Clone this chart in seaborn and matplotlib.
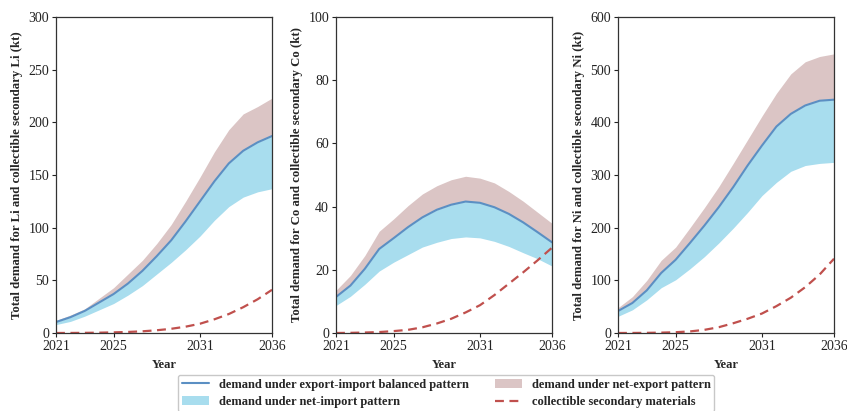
import matplotlib
matplotlib.use("Agg")
import matplotlib.pyplot as plt
import seaborn as sns
import pandas as pd
from matplotlib.patches import Patch
from matplotlib.lines import Line2D

years = list(range(2021, 2037))

# Li (kt)
li_balanced = [10.4, 15, 21, 29, 37, 47, 59, 73, 88, 106, 125, 144, 161, 173, 181, 187]
li_export = [12, 17, 23, 33, 43, 56, 69, 85, 103, 125, 148, 172, 193, 208, 215, 223]
li_import = [8, 11, 16, 22, 28, 36, 45, 56, 67, 79, 92, 107, 120, 129, 134, 137]
li_secondary = [0, 0.05, 0.15, 0.3, 0.6, 1.0, 1.6, 2.6, 4, 6, 8.8, 13, 18, 24.5, 32, 41]

# Co (kt)
co_balanced = [11.4, 15, 20.3, 26.6, 30, 33.5, 36.6, 39, 40.6, 41.6, 41.2, 39.8, 37.7, 35, 31.9, 28.7]
co_export = [13.5, 18.2, 24.5, 32.2, 36.1, 40.3, 44, 46.6, 48.5, 49.6, 49, 47.5, 44.8, 41.7, 38.2, 34.7]
co_import = [8.7, 11.6, 15.4, 19.6, 22.4, 24.8, 27.2, 28.7, 29.9, 30.4, 30.1, 29, 27.4, 25.4, 23.5, 21.2]
co_secondary = [0, 0.05, 0.15, 0.3, 0.6, 1.0, 1.8, 3, 4.5, 6.5, 8.8, 12, 15.6, 19.2, 23, 27]

# Ni (kt)
ni_balanced = [41.7, 57, 81, 114, 139, 171, 204, 239, 277, 318, 356, 392, 416, 432, 441, 443]
ni_export = [48, 69, 100, 138, 163, 200, 238, 278, 322, 367, 412, 455, 492, 515, 525, 530]
ni_import = [31.6, 44, 63, 86, 101, 122, 145, 171, 199, 229, 261, 286, 307, 318, 322, 324]
ni_secondary = [0, 0.1, 0.3, 0.7, 1.5, 3, 6, 11, 18.5, 27, 37, 51, 67, 87, 111, 141]

elements = ["Li", "Co", "Ni"]
y_limits = [300, 100, 600]
y_ticks = [[0, 50, 100, 150, 200, 250, 300],
           [0, 20, 40, 60, 80, 100],
           [0, 100, 200, 300, 400, 500, 600]]
x_ticks = [2021, 2025, 2031, 2036]

series = {
    "Li": (li_balanced, li_export, li_import, li_secondary),
    "Co": (co_balanced, co_export, co_import, co_secondary),
    "Ni": (ni_balanced, ni_export, ni_import, ni_secondary),
}

line_color = "#5b8fc3"
import_color = "#a8ddee"
export_color = "#dbc5c5"
secondary_color = "#c0504d"
dash = (0, (4, 2.5))

sns.set_theme(style="white")
plt.rcParams["font.family"] = ["Liberation Serif", "DejaVu Serif"]

fig = plt.figure(figsize=(8.47, 4.11), dpi=100)
lefts = [56 / 847, 336 / 847, 618 / 847]
width = 216 / 847
bottom = (411 - 333) / 411
height = (333 - 17) / 411

for i, el in enumerate(elements):
    ax = fig.add_axes([lefts[i], bottom, width, height])
    bal, exp_, imp, sec = series[el]
    df = pd.DataFrame({"Year": years, "balanced": bal, "export": exp_,
                       "import": imp, "secondary": sec})
    ax.fill_between(df["Year"], df["balanced"], df["export"], color=export_color, lw=0)
    ax.fill_between(df["Year"], df["import"], df["balanced"], color=import_color, lw=0)
    sns.lineplot(data=df, x="Year", y="balanced", ax=ax, color=line_color, lw=1.5)
    sns.lineplot(data=df, x="Year", y="secondary", ax=ax, color=secondary_color,
                 lw=1.6, linestyle=dash)
    ax.set_xlim(2021, 2036)
    ax.set_ylim(0, y_limits[i])
    ax.set_xticks(x_ticks)
    ax.set_yticks(y_ticks[i])
    ax.tick_params(axis="both", direction="out", length=3, width=0.8,
                   labelsize=10, colors="#222222", bottom=True, left=True, pad=2)
    for s in ax.spines.values():
        s.set_color("#333333")
        s.set_linewidth(0.9)
    ax.set_xlabel("Year", fontsize=9, fontweight="bold", labelpad=4)
    ax.set_ylabel(f"Total demand for {el} and collectible secondary {el} (kt)",
                  fontsize=9.2, fontweight="bold", labelpad=4)

handles = [
    Line2D([0], [0], color=line_color, lw=1.5),
    Patch(facecolor=import_color, edgecolor="none"),
    Patch(facecolor=export_color, edgecolor="none"),
    Line2D([0], [0], color=secondary_color, lw=1.6, linestyle=dash),
]
labels = [
    "demand under export-import balanced pattern",
    "demand under net-import pattern",
    "demand under net-export pattern",
    "collectible secondary materials",
]
fig.legend(handles, labels, loc="upper center", bbox_to_anchor=(0.5266, 0.088),
           ncol=2, frameon=True, prop={"weight": "bold", "size": 9},
           handlelength=2.2, columnspacing=2.1, handletextpad=0.75,
           borderpad=0.3, borderaxespad=0.0, labelspacing=0.45,
           edgecolor="#bbbbbb", fancybox=True)

fig.savefig("out.png", dpi=100)
